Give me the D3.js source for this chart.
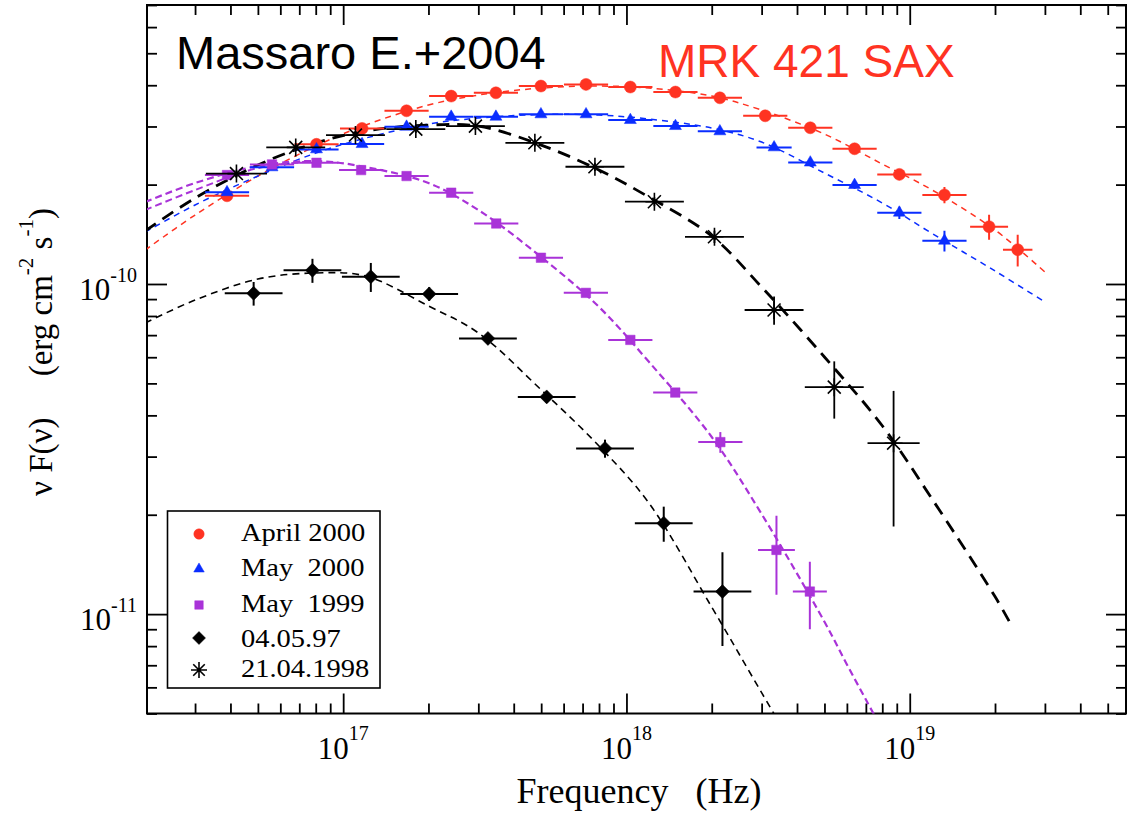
<!DOCTYPE html>
<html>
<head>
<meta charset="utf-8">
<script src="https://cdn.jsdelivr.net/npm/d3@7"></script>
<style>
  body { margin: 0; background: #fff; }
  text { white-space: pre; }
</style>
</head>
<body>
<div id="chart"></div>
<script>
// MRK 421 BeppoSAX spectra, nuF(nu) vs frequency, log-log

// April 2000 (red circles)
const aprNu   = [3.89e16, 8.05e16, 1.166e17, 1.674e17, 2.406e17, 3.461e17, 4.99e17, 7.2e17, 1.032e18, 1.489e18, 2.137e18, 3.09e18, 4.456e18, 6.387e18, 9.19e18, 1.326e19, 1.906e19, 2.405e19];
const aprFlux = [1.85e-10, 2.649e-10, 2.96e-10, 3.347e-10, 3.708e-10, 3.794e-10, 3.977e-10, 4.024e-10, 3.95e-10, 3.814e-10, 3.664e-10, 3.232e-10, 2.973e-10, 2.568e-10, 2.148e-10, 1.861e-10, 1.491e-10, 1.27e-10];
const aprErr  = [0.03e-10, 0.03e-10, 0.03e-10, 0.03e-10, 0.03e-10, 0.03e-10, 0.03e-10, 0.03e-10, 0.03e-10, 0.035e-10, 0.04e-10, 0.04e-10, 0.05e-10, 0.06e-10, 0.075e-10, 0.106e-10, 0.13e-10, 0.14e-10];
const aprDex  = [0.078, 0.078, 0.078, 0.078, 0.078, 0.078, 0.078, 0.078, 0.078, 0.078, 0.078, 0.078, 0.078, 0.078, 0.078, 0.078, 0.067, 0.052];

// May 2000 (blue triangles)
const may00Nu   = [3.89e16, 5.608e16, 8.05e16, 1.166e17, 1.674e17, 2.406e17, 3.461e17, 4.99e17, 7.2e17, 1.032e18, 1.489e18, 2.137e18, 3.32e18, 4.456e18, 6.387e18, 9.19e18, 1.326e19];
const may00Flux = [1.896e-10, 2.256e-10, 2.557e-10, 2.653e-10, 2.994e-10, 3.21e-10, 3.21e-10, 3.265e-10, 3.265e-10, 3.137e-10, 3.008e-10, 2.9e-10, 2.593e-10, 2.332e-10, 1.994e-10, 1.644e-10, 1.352e-10];
const may00Err  = [0.03e-10, 0.03e-10, 0.03e-10, 0.03e-10, 0.03e-10, 0.03e-10, 0.03e-10, 0.03e-10, 0.03e-10, 0.03e-10, 0.035e-10, 0.035e-10, 0.04e-10, 0.04e-10, 0.05e-10, 0.07e-10, 0.097e-10];
const may00Dex  = [0.078, 0.078, 0.078, 0.078, 0.078, 0.078, 0.078, 0.078, 0.078, 0.078, 0.078, 0.078, 0.062, 0.078, 0.078, 0.078, 0.078];

// May 1999 (violet squares)
const may99Nu   = [3.89e16, 5.608e16, 8.05e16, 1.157e17, 1.674e17, 2.406e17, 3.47e17, 4.99e17, 7.19e17, 1.032e18, 1.487e18, 2.145e18, 3.385e18, 4.44e18];
const may99Flux = [2.138e-10, 2.303e-10, 2.329e-10, 2.213e-10, 2.123e-10, 1.891e-10, 1.525e-10, 1.201e-10, 9.40e-11, 6.77e-11, 4.69e-11, 3.32e-11, 1.565e-11, 1.17e-11];
const may99Err  = [0.05e-10, 0.05e-10, 0.05e-10, 0.05e-10, 0.05e-10, 0.045e-10, 0.04e-10, 0.03e-10, 0.025e-11, 0.19e-11, 0.13e-11, 0.24e-11, 0.42e-11, 0.27e-11];
const may99Dex  = [0.078, 0.078, 0.078, 0.078, 0.078, 0.078, 0.078, 0.078, 0.078, 0.078, 0.078, 0.078, 0.065, 0.06];

// 04.05.97 (black diamonds)
const d97Nu   = [4.83e16, 7.79e16, 1.252e17, 2.012e17, 3.243e17, 5.23e17, 8.40e17, 1.354e18, 2.182e18];
const d97Flux = [9.37e-11, 1.100e-10, 1.052e-10, 9.33e-11, 6.84e-11, 4.55e-11, 3.177e-11, 1.886e-11, 1.17e-11];
const d97Err  = [0.77e-11, 0.92e-11, 1.06e-11, 0.45e-11, 0.24e-11, 0.19e-11, 0.2e-11, 0.23e-11, 0.37e-11];
const d97Dex  = [0.102, 0.102, 0.102, 0.102, 0.102, 0.102, 0.102, 0.102, 0.102];

// 21.04.1998 (black stars)
const d98Nu   = [4.20e16, 6.80e16, 1.105e17, 1.805e17, 2.93e17, 4.75e17, 7.74e17, 1.255e18, 2.045e18, 3.32e18, 5.415e18, 8.77e18];
const d98Flux = [2.16e-10, 2.593e-10, 2.826e-10, 2.946e-10, 3.008e-10, 2.677e-10, 2.265e-10, 1.775e-10, 1.39e-10, 8.34e-11, 4.87e-11, 3.294e-11];
const d98Err  = [0.06e-10, 0.07e-10, 0.08e-10, 0.08e-10, 0.08e-10, 0.07e-10, 0.065e-10, 0.055e-10, 0.06e-10, 0.82e-11, 0.96e-11, 1.45e-11];
const d98Dex  = [0.108, 0.104, 0.104, 0.104, 0.104, 0.104, 0.104, 0.104, 0.104, 0.104, 0.104, 0.092];

// log-parabola model curves, sampled
const aprFitNu   = [2e16, 3e16, 5e16, 8e16, 1.2e17, 2e17, 3e17, 5e17, 8e17, 1.2e18, 2e18, 3e18, 5e18, 8e18, 1.2e19, 2e19, 3e19];
const aprFitFlux = [1.267e-10, 1.618e-10, 2.123e-10, 2.617e-10, 3.030e-10, 3.484e-10, 3.735e-10, 3.922e-10, 3.977e-10, 3.922e-10, 3.709e-10, 3.364e-10, 2.846e-10, 2.308e-10, 1.926e-10, 1.457e-10, 1.087e-10];
const may00FitNu   = [2e16, 3e16, 5e16, 8e16, 1.2e17, 2e17, 3e17, 5e17, 8e17, 1.2e18, 2e18, 3e18, 5e18, 8e18, 1.2e19, 2e19, 3e19];
const may00FitFlux = [1.437e-10, 1.735e-10, 2.123e-10, 2.492e-10, 2.767e-10, 3.051e-10, 3.181e-10, 3.260e-10, 3.249e-10, 3.159e-10, 2.967e-10, 2.691e-10, 2.168e-10, 1.759e-10, 1.422e-10, 1.095e-10, 8.82e-11];
const may99FitNu   = [2e16, 3e16, 5e16, 8e16, 1.2e17, 2e17, 3e17, 5e17, 8e17, 1.2e18, 2e18, 3e18, 5e18, 6e18, 7e18, 8e18];
const may99FitFlux = [1.771e-10, 2.022e-10, 2.277e-10, 2.357e-10, 2.261e-10, 2.022e-10, 1.675e-10, 1.207e-10, 8.52e-11, 5.81e-11, 3.44e-11, 2.01e-11, 9.48e-12, 7.04e-12, 5.51e-12, 4.46e-12];
const may99AltNu   = [2e16, 3e16, 5e16, 8e16];
const may99AltFlux = [1.675e-10, 1.926e-10, 2.245e-10, 2.357e-10];
const d97FitNu   = [2e16, 3e16, 5e16, 8e16, 1.2e17, 2e17, 3e17, 5e17, 8e17, 1.2e18, 2e18, 3e18, 4e18];
const d97FitFlux = [7.62e-11, 8.94e-11, 1.035e-10, 1.080e-10, 1.057e-10, 8.58e-11, 7.11e-11, 4.78e-11, 3.23e-11, 2.17e-11, 1.05e-11, 5.78e-12, 3.8e-12];
const d98FitNu   = [2e16, 3e16, 5e16, 8e16, 1.2e17, 2e17, 3e17, 5e17, 8e17, 1.2e18, 2e18, 3e18, 5e18, 8e18, 1.2e19, 2e19, 2.3e19];
const d98FitFlux = [1.447e-10, 1.821e-10, 2.293e-10, 2.672e-10, 2.906e-10, 3.030e-10, 3.008e-10, 2.635e-10, 2.214e-10, 1.834e-10, 1.397e-10, 9.79e-11, 6.01e-11, 3.72e-11, 2.23e-11, 1.13e-11, 9.15e-12];

// axis ticks and labels
const xMajor = [1e17, 1e18, 1e19];
const xMajorExp = ["17", "18", "19"];
const yMajor = [1e-11, 1e-10];
const yMajorExp = ["-11", "-10"];

const legendLabels = ["April 2000", "May  2000", "May  1999", "04.05.97", "21.04.1998"];

const RED = "#ff3322", BLUE = "#0a2dff", VIOLET = "#a933d8", BLACK = "#000";

const W = 1127, H = 813;
const svg = d3.select("#chart").append("svg")
  .attr("width", W).attr("height", H)
  .style("display", "block");

const x = d3.scaleLog().domain([2.03e16, 5.8e19]).range([147, 1126]);
const y = d3.scaleLog().domain([5e-12, 7e-10]).range([713.5, 5]);
const [x0, x1] = x.range(), [y0, y1] = [y.range()[1], y.range()[0]];

svg.append("defs").append("clipPath").attr("id", "plot")
  .append("rect").attr("x", x0).attr("y", y0).attr("width", x1 - x0).attr("height", y1 - y0);

// ticks on all four sides, pointing inward
const isPow10 = v => Math.abs(Math.log10(v) - Math.round(Math.log10(v))) < 1e-6;
const xMinor = x.ticks().filter(v => !isPow10(v));
const yMinor = y.ticks().filter(v => !isPow10(v));

function tickAxis(axis, values, size, tr) {
  const g = svg.append("g").attr("transform", tr)
    .call(axis.tickValues(values).tickSize(-size).tickFormat(""));
  g.select(".domain").remove();
  g.selectAll("line").attr("stroke", BLACK).attr("stroke-width", 1.8);
}
tickAxis(d3.axisBottom(x), xMajor, 20, `translate(0,${y1})`);
tickAxis(d3.axisBottom(x), xMinor, 10, `translate(0,${y1})`);
tickAxis(d3.axisTop(x), xMajor, 20, `translate(0,${y0})`);
tickAxis(d3.axisTop(x), xMinor, 10, `translate(0,${y0})`);
tickAxis(d3.axisLeft(y), yMajor, 20, `translate(${x0},0)`);
tickAxis(d3.axisLeft(y), yMinor, 10, `translate(${x0},0)`);
tickAxis(d3.axisRight(y), yMajor, 20, `translate(${x1},0)`);
tickAxis(d3.axisRight(y), yMinor, 10, `translate(${x1},0)`);

svg.append("rect")
  .attr("x", x0).attr("y", y0).attr("width", x1 - x0).attr("height", y1 - y0)
  .attr("fill", "none").attr("stroke", BLACK).attr("stroke-width", 2);

// tick labels 10^n
const serif = "'Liberation Serif', 'Times New Roman', serif";
xMajor.forEach((v, i) => {
  const t = svg.append("text")
    .attr("x", x(v)).attr("y", 759)
    .attr("text-anchor", "middle")
    .attr("font-family", serif).attr("font-size", 31);
  t.append("tspan").text("10");
  t.append("tspan").attr("font-size", 20).attr("dy", -19).text(xMajorExp[i]);
});
yMajor.forEach((v, i) => {
  const t = svg.append("text")
    .attr("x", 137).attr("y", y(v) + 16)
    .attr("text-anchor", "end")
    .attr("font-family", serif).attr("font-size", 31);
  t.append("tspan").text("10");
  t.append("tspan").attr("font-size", 20).attr("dy", -18).text(yMajorExp[i]);
});

// axis titles
svg.append("text")
  .attr("x", 639).attr("y", 803)
  .attr("text-anchor", "middle")
  .attr("font-family", serif).attr("font-size", 36)
  .text("Frequency   (Hz)");

const yt = svg.append("text")
  .attr("transform", "translate(52,352) rotate(-90)")
  .attr("text-anchor", "middle")
  .attr("font-family", serif).attr("font-size", 33);
yt.append("tspan").text("\u03bd F(\u03bd)     (erg cm");
yt.append("tspan").attr("font-size", 21).attr("dy", -19).text("-2");
yt.append("tspan").attr("dy", 19).text(" s");
yt.append("tspan").attr("font-size", 21).attr("dy", -19).text("-1");
yt.append("tspan").attr("dy", 19).text(")");

// headline texts
const sans = "'Liberation Sans', Arial, Helvetica, sans-serif";
svg.append("text").attr("x", 176).attr("y", 69)
  .attr("font-family", sans).attr("font-size", 47).attr("fill", BLACK)
  .text("Massaro E.+2004");
svg.append("text").attr("x", 658).attr("y", 77)
  .attr("font-family", sans).attr("font-size", 46).attr("fill", RED)
  .text("MRK 421 SAX");

// model curves
const plot = svg.append("g").attr("clip-path", "url(#plot)");
const line = d3.line().x(d => x(d[0])).y(d => y(d[1])).curve(d3.curveCatmullRom.alpha(0.5));
function model(nu, flux, color, width, dash) {
  plot.append("path")
    .datum(d3.zip(nu, flux))
    .attr("d", line)
    .attr("fill", "none").attr("stroke", color)
    .attr("stroke-width", width).attr("stroke-dasharray", dash);
}
model(aprFitNu, aprFitFlux, RED, 1.5, "6,5");
model(may00FitNu, may00FitFlux, BLUE, 1.5, "6,5");
model(may99AltNu, may99AltFlux, VIOLET, 2, "7,4");
model(may99FitNu, may99FitFlux, VIOLET, 2.2, "7,4");
model(d97FitNu, d97FitFlux, BLACK, 1.6, "7,5");
model(d98FitNu, d98FitFlux, BLACK, 2.8, "13,8");

// marker shapes
const circlePath = r => d3.symbol(d3.symbolCircle, Math.PI * r * r)();
const trianglePath = s => d3.symbol(d3.symbolTriangle, s * s * Math.sqrt(3) / 4)();
const squarePath = s => d3.symbol(d3.symbolSquare, s * s)();
const diamondPath = r => `M0,${-r}L${r},0L0,${r}L${-r},0Z`;
const starPath = r => {
  const a = r * 0.72;
  return `M0,${-r}L0,${r}M${-r},0L${r},0M${-a},${-a}L${a},${a}M${-a},${a}L${a},${-a}`;
};

function series(nu, flux, err, dex, color, shape, filled, barWidth) {
  const g = plot.append("g");
  const pts = d3.range(nu.length).map(i => ({nu: nu[i], f: flux[i], e: err[i], d: dex[i]}));
  g.selectAll("line.xbar").data(pts).join("line")
    .attr("x1", p => x(p.nu / Math.pow(10, p.d))).attr("x2", p => x(p.nu * Math.pow(10, p.d)))
    .attr("y1", p => y(p.f)).attr("y2", p => y(p.f))
    .attr("stroke", color).attr("stroke-width", barWidth);
  g.selectAll("line.ybar").data(pts).join("line")
    .attr("x1", p => x(p.nu)).attr("x2", p => x(p.nu))
    .attr("y1", p => y(p.f - p.e)).attr("y2", p => y(p.f + p.e))
    .attr("stroke", color).attr("stroke-width", barWidth);
  g.selectAll("path.mark").data(pts).join("path")
    .attr("transform", p => `translate(${x(p.nu)},${y(p.f)})`)
    .attr("d", shape)
    .attr("fill", filled ? color : "none")
    .attr("stroke", color).attr("stroke-width", filled ? 0.5 : 1.6);
}
series(aprNu, aprFlux, aprErr, aprDex, RED, circlePath(6), true, 2);
series(may00Nu, may00Flux, may00Err, may00Dex, BLUE, trianglePath(12), true, 2);
series(may99Nu, may99Flux, may99Err, may99Dex, VIOLET, squarePath(9.5), true, 2);
series(d97Nu, d97Flux, d97Err, d97Dex, BLACK, diamondPath(7), true, 2);
series(d98Nu, d98Flux, d98Err, d98Dex, BLACK, starPath(9), false, 1.8);

// legend
const lg = svg.append("g");
lg.append("rect").attr("x", 167.5).attr("y", 511).attr("width", 212.5).attr("height", 177)
  .attr("fill", "#fff").attr("stroke", BLACK).attr("stroke-width", 1.6);
const legendMarks = [
  {d: circlePath(5.2), c: RED, fill: true, cy: 534},
  {d: trianglePath(10.5), c: BLUE, fill: true, cy: 569},
  {d: squarePath(8.5), c: VIOLET, fill: true, cy: 605},
  {d: diamondPath(6.5), c: BLACK, fill: true, cy: 638},
  {d: starPath(8), c: BLACK, fill: false, cy: 670}
];
const legendBase = [541, 576, 612, 647, 677];
legendLabels.forEach((label, i) => {
  const m = legendMarks[i];
  lg.append("path").attr("transform", `translate(199,${m.cy})`)
    .attr("d", m.d).attr("fill", m.fill ? m.c : "none")
    .attr("stroke", m.c).attr("stroke-width", m.fill ? 0.5 : 1.6);
  lg.append("text")
    .attr("transform", `translate(241,${legendBase[i]}) scale(1.14,1)`)
    .attr("font-family", serif).attr("font-size", 25)
    .text(label);
});
</script>
</body>
</html>
